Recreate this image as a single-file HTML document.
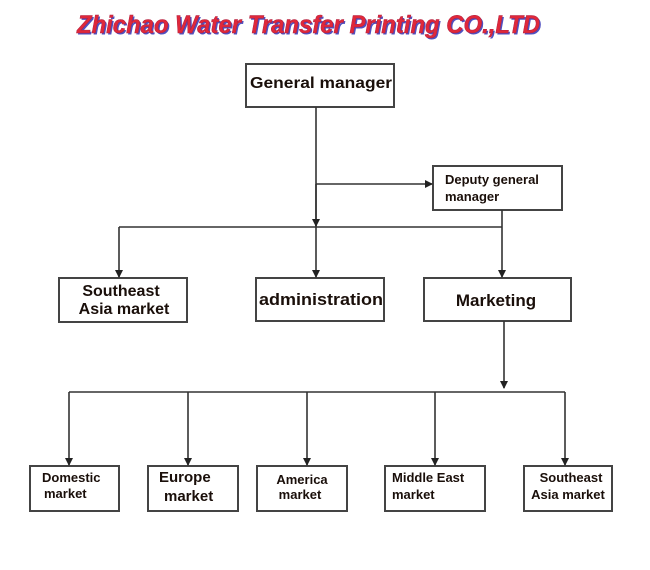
<!DOCTYPE html>
<html><head><meta charset="utf-8"><style>
html,body{margin:0;padding:0;background:#fff;}
svg{display:block}
.b{fill:#fff;stroke:#444;stroke-width:2}
.t{font-family:"Liberation Sans",Arial,sans-serif;font-weight:bold;fill:#1a0f0a}
.l{stroke:#333;stroke-width:1.6;fill:none}
</style></head><body>
<svg width="650" height="570" viewBox="0 0 650 570" xmlns="http://www.w3.org/2000/svg">
<defs><marker id="a" markerWidth="8" markerHeight="8" refX="7" refY="4" orient="auto" markerUnits="userSpaceOnUse"><path d="M0,0 L8,4 L0,8 z" fill="#222"/></marker></defs>
<text x="77" y="33" font-family="Liberation Sans,sans-serif" font-style="italic" font-weight="bold" font-size="25" fill="#5050c0" transform="translate(1.5,1.5)" textLength="463" lengthAdjust="spacingAndGlyphs">Zhichao Water Transfer Printing  CO.,LTD</text>
<text x="77" y="33" font-family="Liberation Sans,sans-serif" font-style="italic" font-weight="bold" font-size="25" fill="#e0283a" stroke="#b02040" stroke-width="0.5" textLength="463" lengthAdjust="spacingAndGlyphs">Zhichao Water Transfer Printing  CO.,LTD</text>

<rect class="b" x="246" y="64" width="148" height="43"/>
<text class="t" x="321" y="88" font-size="16" text-anchor="middle" textLength="142" lengthAdjust="spacingAndGlyphs">General manager</text>
<rect class="b" x="433" y="166" width="129" height="44"/>
<text class="t" x="445" y="184" font-size="13">Deputy general</text>
<text class="t" x="445" y="201" font-size="13">manager</text>

<rect class="b" x="59" y="278" width="128" height="44"/>
<text class="t" x="121" y="296" font-size="16" text-anchor="middle">Southeast</text>
<text class="t" x="124" y="314" font-size="16" text-anchor="middle">Asia market</text>
<rect class="b" x="256" y="278" width="128" height="43"/>
<text class="t" x="321" y="305" font-size="17" text-anchor="middle" textLength="124" lengthAdjust="spacingAndGlyphs">administration</text>
<rect class="b" x="424" y="278" width="147" height="43"/>
<text class="t" x="496" y="306" font-size="17" text-anchor="middle">Marketing</text>

<rect class="b" x="30" y="466" width="89" height="45"/>
<text class="t" x="42" y="482" font-size="13">Domestic</text>
<text class="t" x="44" y="498" font-size="13">market</text>
<rect class="b" x="148" y="466" width="90" height="45"/>
<text class="t" x="159" y="482" font-size="15">Europe</text>
<text class="t" x="164" y="501" font-size="15">market</text>
<rect class="b" x="257" y="466" width="90" height="45"/>
<text class="t" x="302" y="484" font-size="13" text-anchor="middle">America</text>
<text class="t" x="300" y="499" font-size="13" text-anchor="middle">market</text>
<rect class="b" x="385" y="466" width="100" height="45"/>
<text class="t" x="392" y="482" font-size="13">Middle East</text>
<text class="t" x="392" y="499" font-size="13">market</text>
<rect class="b" x="524" y="466" width="88" height="45"/>
<text class="t" x="571" y="482" font-size="13" text-anchor="middle">Southeast</text>
<text class="t" x="568" y="499" font-size="13" text-anchor="middle">Asia market</text>

<path class="l" d="M316,107 V277" marker-end="url(#a)"/>
<path class="l" d="M316,184 H432" marker-end="url(#a)"/>
<path class="l" d="M502,210 V277" marker-end="url(#a)"/>
<path class="l" d="M119,227 H502"/>
<path class="l" d="M119,227 V277" marker-end="url(#a)"/>
<path class="l" d="M316,184 V226" marker-end="url(#a)"/>
<path class="l" d="M504,321 V388" marker-end="url(#a)"/>
<path class="l" d="M69,392 H565"/>
<path class="l" d="M69,392 V465" marker-end="url(#a)"/>
<path class="l" d="M188,392 V465" marker-end="url(#a)"/>
<path class="l" d="M307,392 V465" marker-end="url(#a)"/>
<path class="l" d="M435,392 V465" marker-end="url(#a)"/>
<path class="l" d="M565,392 V465" marker-end="url(#a)"/>
</svg>
</body></html>
